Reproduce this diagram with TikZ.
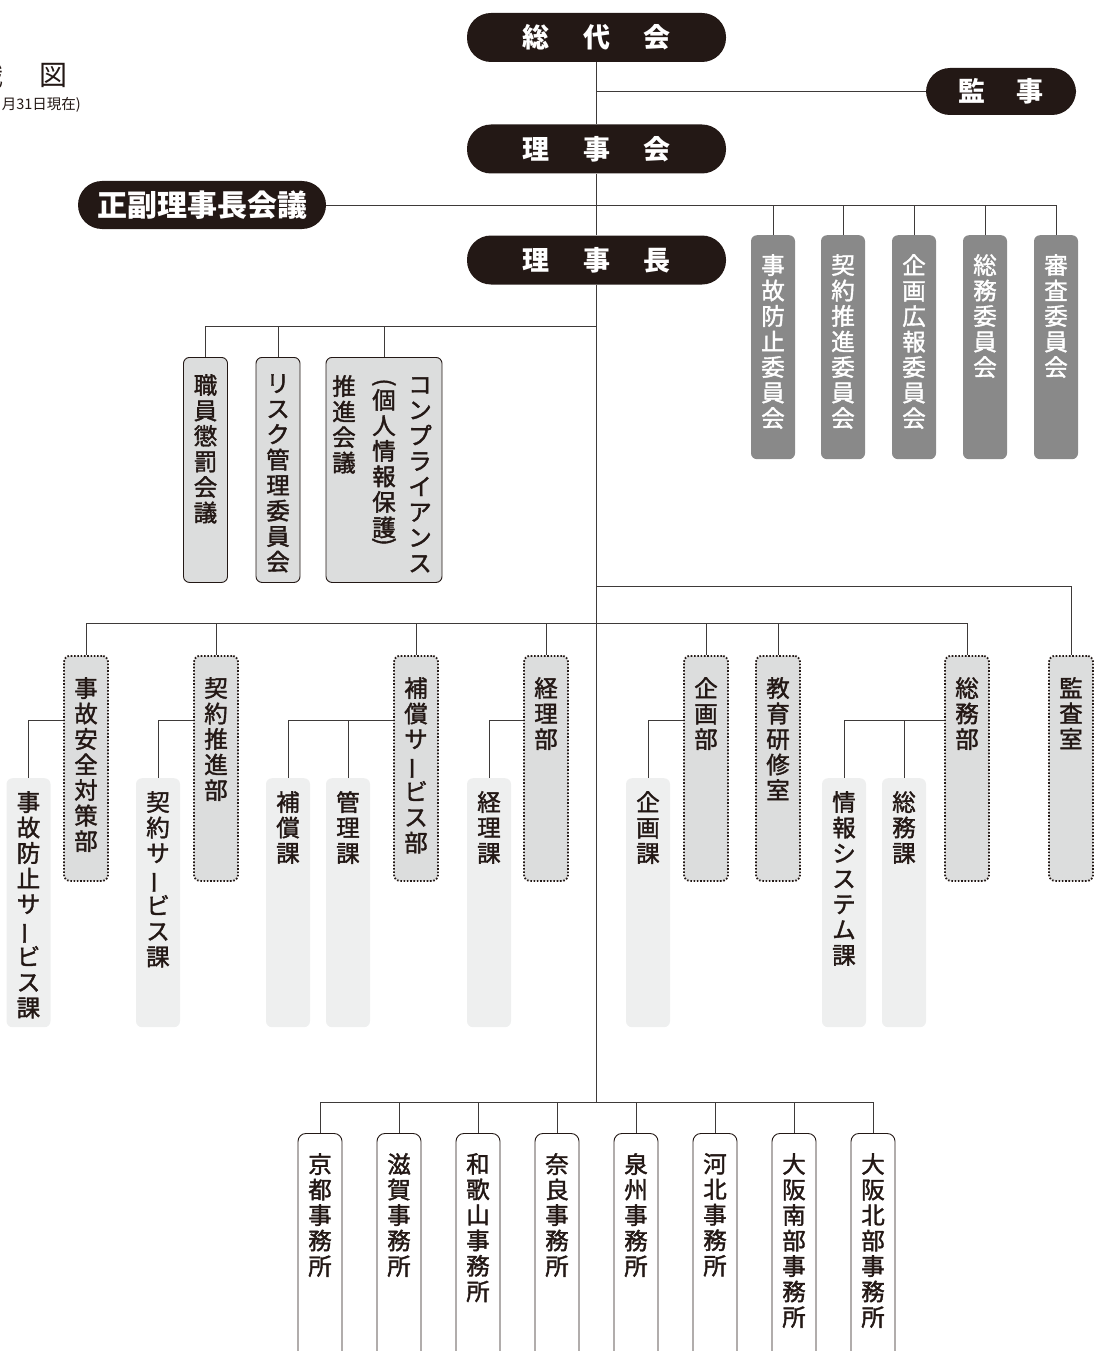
\documentclass[tikz,border=0pt]{standalone}
\usepackage{fontspec}
\usepackage{graphicx}
\setmainfont{Noto Sans CJK JP}
\newfontfamily\jpm{Noto Sans CJK JP}[FakeBold=1.6]
\usetikzlibrary{calc}
\definecolor{ink}{HTML}{231815}
\definecolor{linec}{HTML}{3E3A39}
\definecolor{cmtc}{HTML}{898989}
\definecolor{deptc}{HTML}{DCDDDD}
\definecolor{sectc}{HTML}{EEEFEF}
\newcommand\vbar{\rotatebox[origin=c]{90}{ー}}
\begin{document}
\begin{tikzpicture}[x=1pt,y=-1pt,
  pill/.style={fill=ink, rounded corners=24pt, minimum width=259pt, minimum height=49pt, text=white, font=\fontsize{27}{27}\selectfont\bfseries, inner sep=0},
  cmtbox/.style={anchor=north, fill=cmtc, rounded corners=6pt, minimum width=44pt, minimum height=224pt, inner sep=0},
  cnclbox/.style={anchor=north, fill=deptc, draw=ink, line width=0.9pt, rounded corners=6pt, minimum height=225pt, inner sep=0},
  deptbox/.style={anchor=north, fill=deptc, draw=ink, line width=1.8pt, dash pattern=on 1.6pt off 1.7pt, rounded corners=6pt, minimum width=44pt, minimum height=225pt, inner sep=0},
  sectbox/.style={anchor=north, fill=sectc, rounded corners=6pt, minimum width=44pt, minimum height=249pt, inner sep=0},
  offbox/.style={anchor=north, fill=white, draw=ink, line width=0.9pt, rounded corners=8pt, minimum width=44pt, minimum height=300pt, inner sep=0},
  vlab/.style={anchor=north, align=center, inner sep=0, text=ink, font=\jpm\fontsize{23.5}{25.5}\selectfont},
  vlabw/.style={vlab, text=white},
  conn/.style={draw=linec, line width=1pt}
]
\useasboundingbox (0,0) rectangle (1094,1351);

% title (cut off at the left edge)
\node[font=\fontsize{28}{28}\selectfont, text=ink, inner sep=0] (tz1) at (-10,75) {織};
\node[font=\fontsize{28}{28}\selectfont, text=ink, inner sep=0] (tz2) at (53,75) {図};
\node[anchor=east, font=\fontsize{14.5}{14.5}\selectfont, text=ink, inner sep=0] (tdate) at (81,105) {月31日現在)};

% top pills
\node[pill] (sodai) at (596.5,37.5) {総\hspace{34pt}代\hspace{34pt}会};
\node[pill, minimum width=150pt, minimum height=47pt] (kanji) at (1001,91.5) {監\hspace{31pt}事};
\node[pill] (rijikai) at (596.5,149) {理\hspace{34pt}事\hspace{34pt}会};
\node[pill, minimum width=248pt, minimum height=48pt, font=\fontsize{30}{30}\selectfont\bfseries] (seifuku) at (202,205) {正副理事長会議};
\node[pill] (rijicho) at (596.5,260) {理\hspace{34pt}事\hspace{34pt}長};

% committees
\node[cmtbox] (c1) at (773,235) {};
\node[cmtbox] (c2) at (843,235) {};
\node[cmtbox] (c3) at (914,235) {};
\node[cmtbox] (c4) at (985,235) {};
\node[cmtbox] (c5) at (1056,235) {};
\node[vlabw] (lc1) at ([yshift=-19pt]c1.north) {事\\故\\防\\止\\委\\員\\会};
\node[vlabw] (lc2) at ([yshift=-19pt]c2.north) {契\\約\\推\\進\\委\\員\\会};
\node[vlabw] (lc3) at ([yshift=-19pt]c3.north) {企\\画\\広\\報\\委\\員\\会};
\node[vlabw] (lc4) at ([yshift=-19pt]c4.north) {総\\務\\委\\員\\会};
\node[vlabw] (lc5) at ([yshift=-19pt]c5.north) {審\\査\\委\\員\\会};

% councils
\node[cnclbox, minimum width=44pt] (k1) at (205.5,357) {};
\node[cnclbox, minimum width=44pt] (k2) at (278,357) {};
\node[cnclbox, minimum width=116pt] (k3) at (384,357) {};
\node[vlab] (lk1) at ([yshift=-17pt]k1.north) {職\\員\\懲\\罰\\会\\議};
\node[vlab] (lk2) at ([yshift=-17pt]k2.north) {リ\\ス\\ク\\管\\理\\委\\員\\会};
\node[vlab] (lk3a) at ([xshift=36pt,yshift=-20pt]k3.north) {コ\\ン\\プ\\ラ\\イ\\ア\\ン\\ス};
\node[vlab] (lk3b) at ([xshift=0pt,yshift=-32pt]k3.north) {個\\人\\情\\報\\保\\護};
\node[anchor=south, inner sep=0, text=ink, font=\jpm\fontsize{23.5}{23.5}\selectfont] (lp1) at ([yshift=-1pt]lk3b.north) {\rotatebox[origin=c]{-90}{(}};
\node[anchor=north, inner sep=0, text=ink, font=\jpm\fontsize{23.5}{23.5}\selectfont] (lp2) at ([yshift=1pt]lk3b.south) {\rotatebox[origin=c]{-90}{)}};
\node[vlab] (lk3c) at ([xshift=-40pt,yshift=-18pt]k3.north) {推\\進\\会\\議};

% departments
\node[deptbox] (d1) at (86,655) {};
\node[deptbox] (d2) at (216,655) {};
\node[deptbox] (d3) at (416,655) {};
\node[deptbox] (d4) at (546,655) {};
\node[deptbox] (d5) at (706,655) {};
\node[deptbox] (d6) at (778,655) {};
\node[deptbox] (d7) at (967,655) {};
\node[deptbox] (d8) at (1071,655) {};
\node[vlab] (ld1) at ([yshift=-22pt]d1.north) {事\\故\\安\\全\\対\\策\\部};
\node[vlab] (ld2) at ([yshift=-22pt]d2.north) {契\\約\\推\\進\\部};
\node[vlab] (ld3) at ([yshift=-22pt]d3.north) {補\\償\\サ\\\vbar\\ビ\\ス\\部};
\node[vlab] (ld4) at ([yshift=-22pt]d4.north) {経\\理\\部};
\node[vlab] (ld5) at ([yshift=-22pt]d5.north) {企\\画\\部};
\node[vlab] (ld6) at ([yshift=-22pt]d6.north) {教\\育\\研\\修\\室};
\node[vlab] (ld7) at ([yshift=-22pt]d7.north) {総\\務\\部};
\node[vlab] (ld8) at ([yshift=-22pt]d8.north) {監\\査\\室};

% sections
\node[sectbox] (s1) at (28.5,778) {};
\node[sectbox] (s2) at (158,778) {};
\node[sectbox] (s3) at (288,778) {};
\node[sectbox] (s4) at (348,778) {};
\node[sectbox] (s5) at (489,778) {};
\node[sectbox] (s6) at (648,778) {};
\node[sectbox] (s7) at (844,778) {};
\node[sectbox] (s8) at (904,778) {};
\node[vlab] (ls1) at ([yshift=-13pt]s1.north) {事\\故\\防\\止\\サ\\\vbar\\ビ\\ス\\課};
\node[vlab] (ls2) at ([yshift=-13pt]s2.north) {契\\約\\サ\\\vbar\\ビ\\ス\\課};
\node[vlab] (ls3) at ([yshift=-13pt]s3.north) {補\\償\\課};
\node[vlab] (ls4) at ([yshift=-13pt]s4.north) {管\\理\\課};
\node[vlab] (ls5) at ([yshift=-13pt]s5.north) {経\\理\\課};
\node[vlab] (ls6) at ([yshift=-13pt]s6.north) {企\\画\\課};
\node[vlab] (ls7) at ([yshift=-13pt]s7.north) {情\\報\\シ\\ス\\テ\\ム\\課};
\node[vlab] (ls8) at ([yshift=-13pt]s8.north) {総\\務\\課};

% offices
\node[offbox] (o1) at (320,1133) {};
\node[offbox] (o2) at (399,1133) {};
\node[offbox] (o3) at (478,1133) {};
\node[offbox] (o4) at (557,1133) {};
\node[offbox] (o5) at (636,1133) {};
\node[offbox] (o6) at (715,1133) {};
\node[offbox] (o7) at (794,1133) {};
\node[offbox] (o8) at (873,1133) {};
\node[vlab] (lo1) at ([yshift=-20pt]o1.north) {京\\都\\事\\務\\所};
\node[vlab] (lo2) at ([yshift=-20pt]o2.north) {滋\\賀\\事\\務\\所};
\node[vlab] (lo3) at ([yshift=-20pt]o3.north) {和\\歌\\山\\事\\務\\所};
\node[vlab] (lo4) at ([yshift=-20pt]o4.north) {奈\\良\\事\\務\\所};
\node[vlab] (lo5) at ([yshift=-20pt]o5.north) {泉\\州\\事\\務\\所};
\node[vlab] (lo6) at ([yshift=-20pt]o6.north) {河\\北\\事\\務\\所};
\node[vlab] (lo7) at ([yshift=-20pt]o7.north) {大\\阪\\南\\部\\事\\務\\所};
\node[vlab] (lo8) at ([yshift=-20pt]o8.north) {大\\阪\\北\\部\\事\\務\\所};

% junction coordinates
\coordinate (cb) at (596.5,326);
\coordinate (ab) at (596.5,586);
\coordinate (db) at (596.5,623);
\coordinate (ob) at (596.5,1102);

% connectors
\draw[conn] (sodai.south) -- (rijikai.north);
\draw[conn] (kanji.west) -- (kanji.west -| sodai.south);
\draw[conn] (rijikai.south) -- (rijicho.north);
\draw[conn] (seifuku.east) -- (seifuku.east -| c5.north) -- (c5.north);
\foreach \c in {c1,c2,c3,c4}{\draw[conn] (\c.north) -- (\c.north |- seifuku.east);}
\draw[conn] (rijicho.south) -- (ob);
\draw[conn] (k1.north) |- (cb);
\draw[conn] (k2.north) -- (k2.north |- cb);
\draw[conn] (k3.north) -- (k3.north |- cb);
\draw[conn] (ab) -| (d8.north);
\draw[conn] (d1.north) |- (db);
\draw[conn] (d7.north) |- (db);
\foreach \d in {d2,d3,d4,d5,d6}{\draw[conn] (\d.north) -- (\d.north |- db);}
\draw[conn] ([yshift=-65pt]d1.north west) -| (s1.north);
\draw[conn] ([yshift=-65pt]d2.north west) -| (s2.north);
\draw[conn] ([yshift=-65pt]d3.north west) coordinate (d3j) -| (s3.north);
\draw[conn] (s4.north) -- (s4.north |- d3j);
\draw[conn] ([yshift=-65pt]d4.north west) -| (s5.north);
\draw[conn] ([yshift=-65pt]d5.north west) -| (s6.north);
\draw[conn] ([yshift=-65pt]d7.north west) coordinate (d7j) -| (s7.north);
\draw[conn] (s8.north) -- (s8.north |- d7j);
\draw[conn] (o1.north) |- (ob);
\draw[conn] (o8.north) |- (ob);
\foreach \o in {o2,o3,o4,o5,o6,o7}{\draw[conn] (\o.north) -- (\o.north |- ob);}
\end{tikzpicture}
\end{document}
